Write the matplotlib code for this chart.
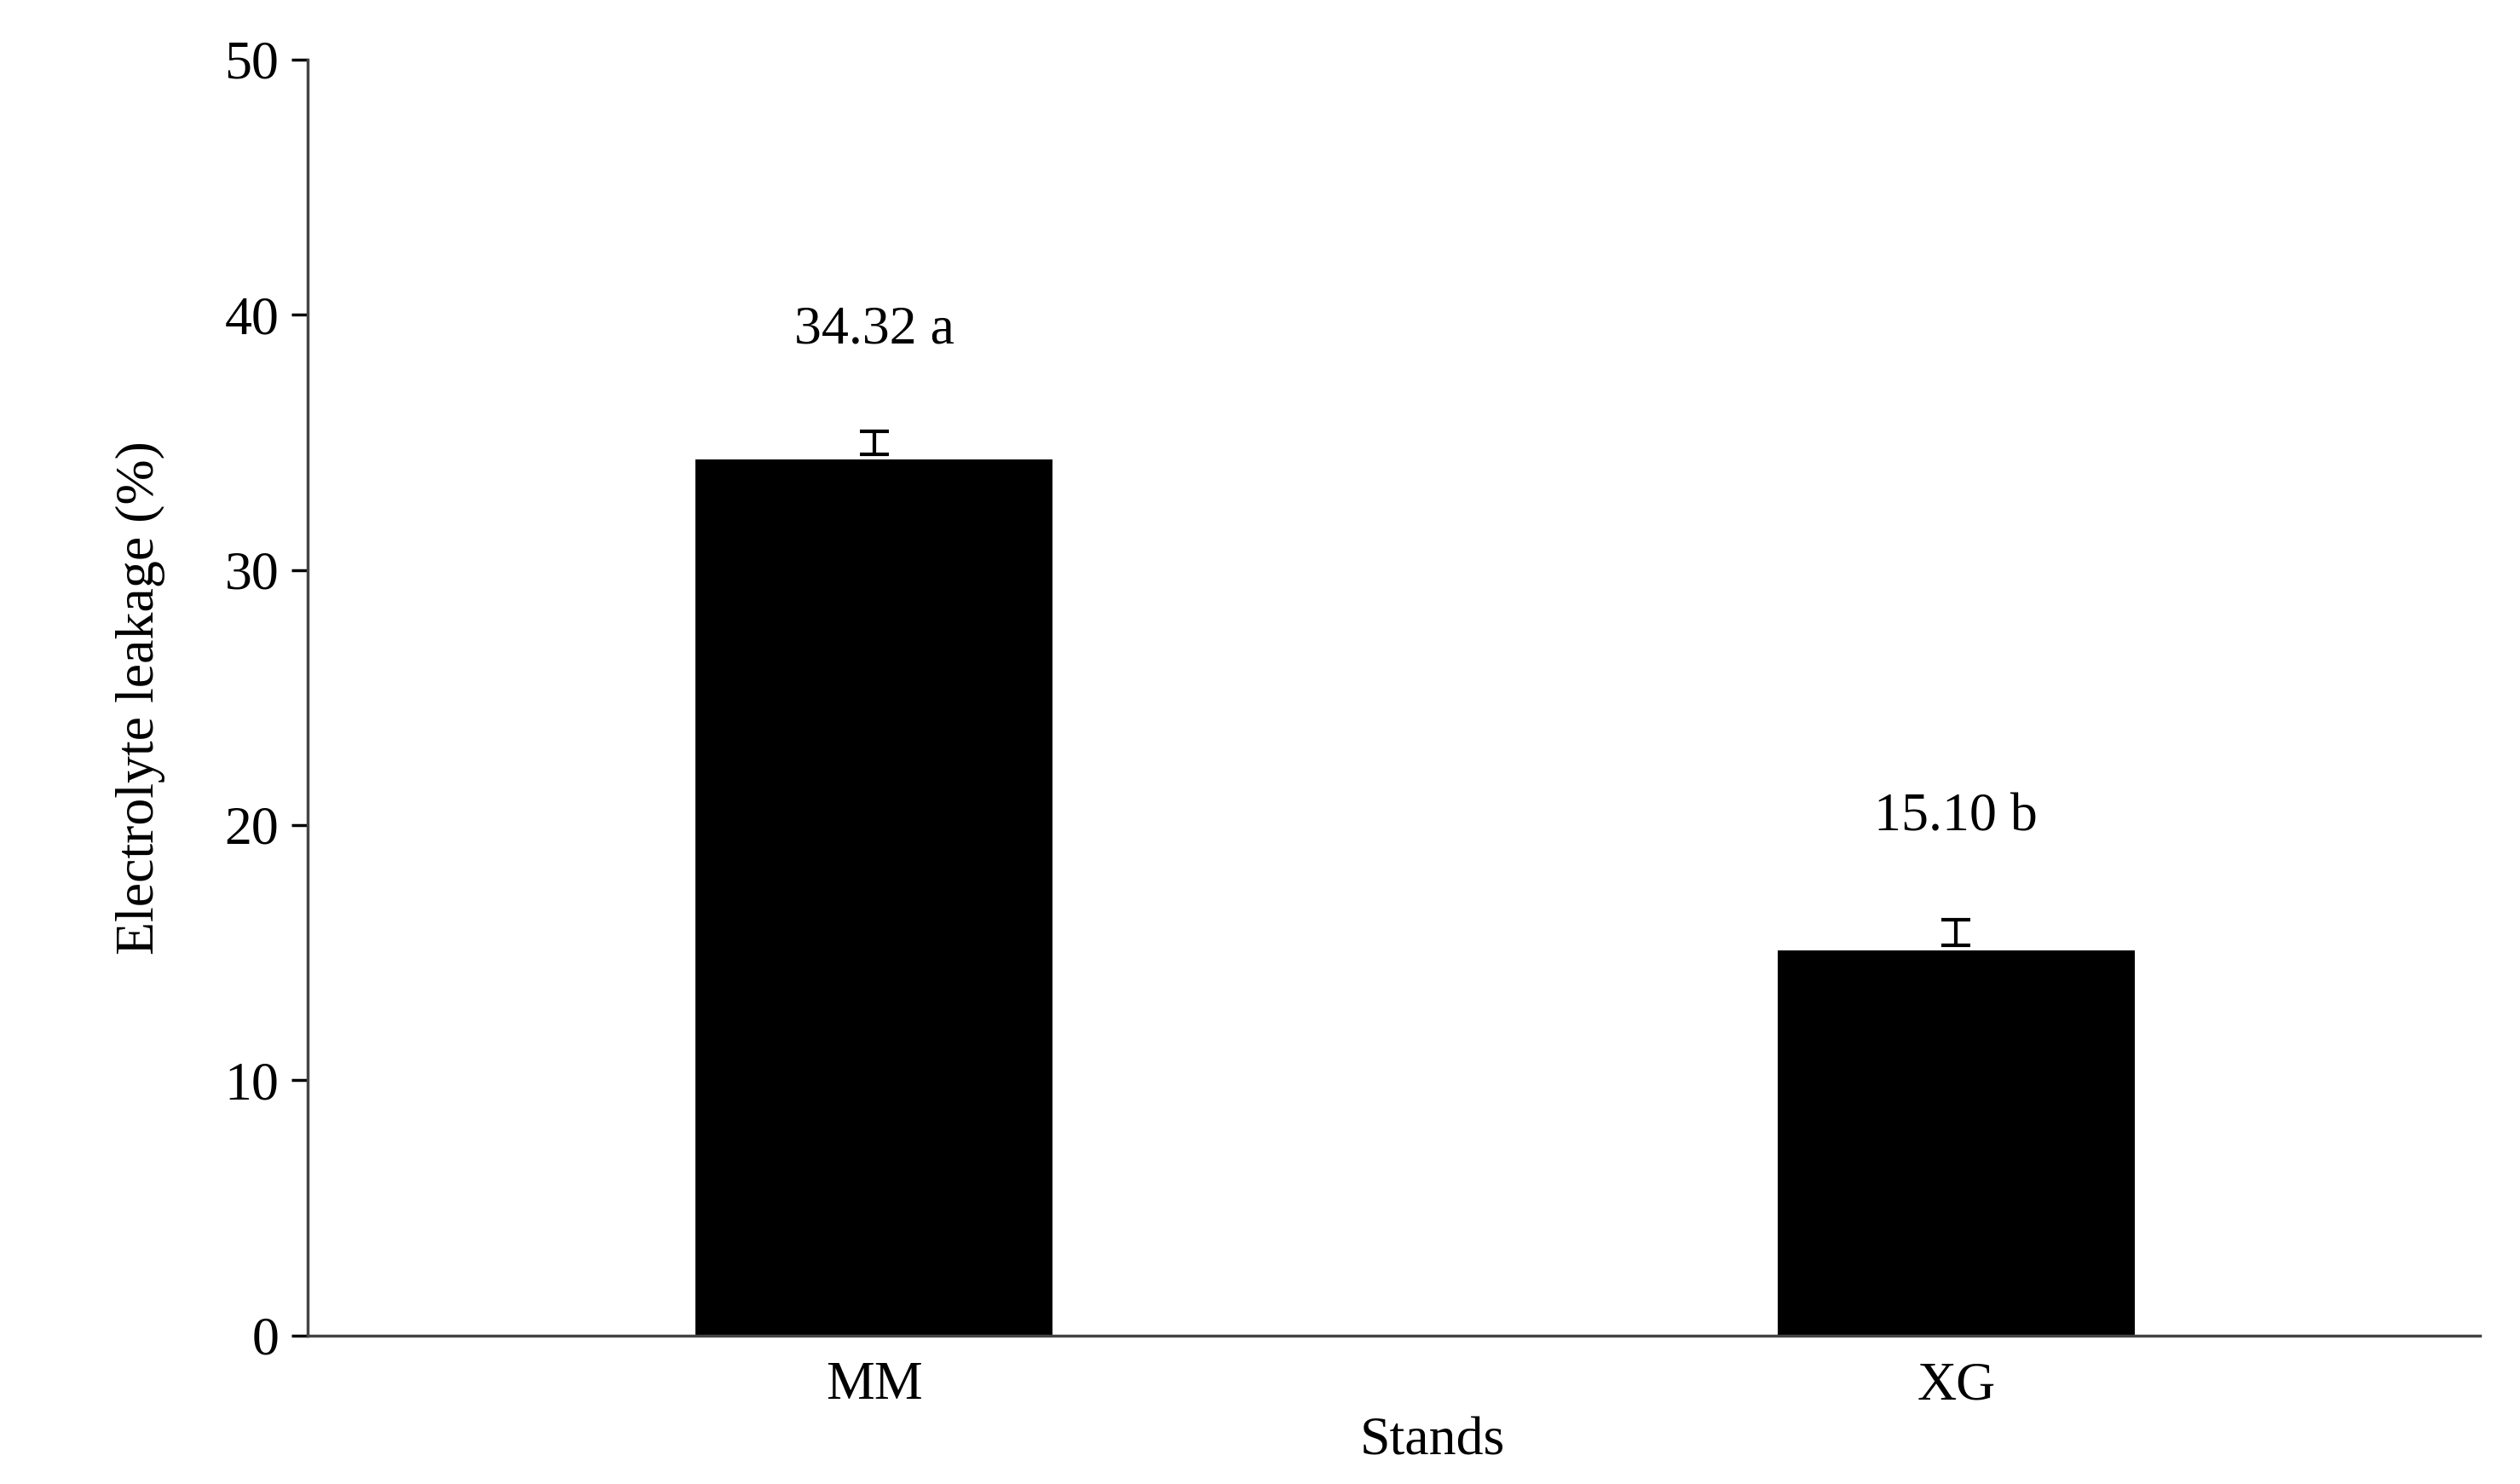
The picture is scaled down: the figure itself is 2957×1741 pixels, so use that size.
from matplotlib import pyplot as plt

stands = ['MM', 'XG']
leakage = [34.32, 15.10]
errors = [0.9, 1.0]
labels = ['34.32 a', '15.10 b']

plt.rcParams['font.family'] = ['Liberation Serif', 'DejaVu Serif']

fig = plt.figure(figsize=(29.57, 17.41), dpi=100)
ax = fig.add_axes([0.122, 0.100, 0.862, 0.860])

x = list(range(len(stands)))
ax.bar(x, leakage, width=0.33, color='black')
ax.errorbar(x, [v + 0.2 for v in leakage], yerr=[[0, 0], errors], fmt='none',
            ecolor='black', elinewidth=3, capsize=12, capthick=3)
for xi, v, e, lab in zip(x, leakage, errors, labels):
    ax.text(xi, v + e + 3.2, lab, ha='center', va='bottom', fontsize=46)

ax.set_xlim(-0.524, 1.484)
ax.set_ylim(0, 50)
ax.set_yticks([0, 10, 20, 30, 40, 50])
ax.set_xticks(x)
ax.set_xticklabels(stands)
ax.tick_params(axis='y', labelsize=46, width=2.5, length=14, pad=10)
ax.tick_params(axis='x', labelsize=46, length=0, pad=22)
ax.text(0.516, -0.083, 'Stands', transform=ax.get_xaxis_transform(),
        ha='center', va='center', fontsize=46)
ax.set_ylabel('Electrolyte leakage (%)', fontsize=46, labelpad=50)
for s in ['top', 'right']:
    ax.spines[s].set_visible(False)
for s in ['left', 'bottom']:
    ax.spines[s].set_linewidth(2.5)
    ax.spines[s].set_color('#444444')

plt.savefig('out.png', dpi=100)
